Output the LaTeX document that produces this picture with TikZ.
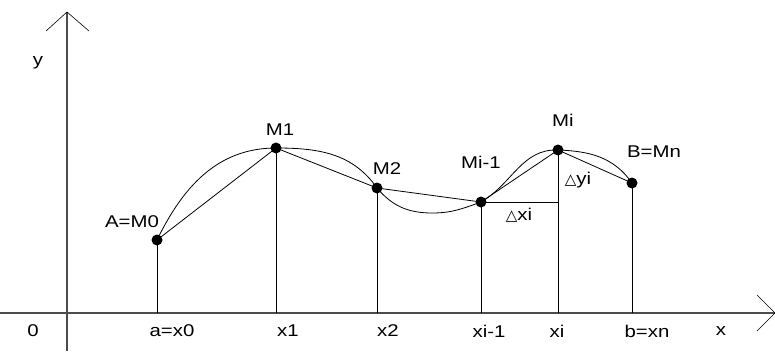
\documentclass[tikz,border=0pt]{standalone}
\usepackage{fontspec}
\setmainfont{Liberation Sans}[FakeStretch=1.2]
\newfontfamily\symb{DejaVu Sans}
\usepackage{tikz}
\usetikzlibrary{positioning}
\tikzset{
  axe/.style = {draw=black!70, line width=1.2pt},% axes
  fleche/.style = {draw=black, line width=0.6pt},% pointe ouverte
  trait/.style = {draw=black, line width=0.8pt},% cordes et verticales
  pt/.style = {circle, fill=black, inner sep=0pt, minimum size=11pt},% point Mi
  lbl/.style = {inner sep=1pt, font=\fontsize{17}{19}\selectfont}% etiquette
}
\newcommand{\tri}{{\symb\fontsize{15}{17}\selectfont △}}
\begin{document}
\begin{tikzpicture}[x=1pt, y=-1pt]
  \useasboundingbox (0,0) rectangle (775,351);
  % axes
  \coordinate (O) at (67,313);
  \coordinate (ytop) at (67,12);
  \coordinate (ybot) at (67,351);
  \coordinate (xl) at (0,313);
  \coordinate (xr) at (775,313);
  \draw[axe] (ybot) -- (ytop);
  \draw[axe] (xl) -- (xr);
  \draw[fleche] (46,31) -- (ytop) -- (89,31);
  \draw[fleche] (757,295) -- (xr) -- (757,331);
  % points de la courbe
  \node[pt] (M0) at (157,240) {};
  \node[pt] (M1) at (276,148) {};
  \node[pt] (M2) at (377,188) {};
  \node[pt] (Mi1) at (481,202) {};
  \node[pt] (Mi) at (558,150) {};
  \node[pt] (Mn) at (632,183) {};
  \coordinate (H) at (558,202);
  % pieds sur l'axe
  \foreach \p in {M0,M1,M2,Mi1,Mi,Mn}
    \draw[trait] (\p.center) -- (\p.center |- O);
  % courbe
  \draw[trait] (M0.center) to[out=64,in=180] (M1.center)
    to[out=0,in=125] (M2.center)
    to[out=-50,in=180] (432,213)
    to[out=0,in=200] (Mi1.center)
    to[out=30,in=178] (Mi.center)
    to[out=-2,in=125] (Mn.center);
  % cordes
  \draw[trait] (M0.center) -- (M1.center) -- (M2.center) -- (Mi1.center)
    -- (Mi.center) -- (Mn.center);
  \draw[trait] (Mi1.center) -- (H);
  % etiquettes
  \node[lbl] (ly) at (38,63) {y};
  \node[lbl] (lx) at (721,331) {x};
  \node[lbl] (l0) at (33,331) {0};
  \node[lbl] (lx0) at (172,331) {a=x0};
  \node[lbl] (lx1) at (288,331) {x1};
  \node[lbl] (lx2) at (388,331) {x2};
  \node[lbl] (lxi1) at (489,331) {xi-1};
  \node[lbl] (lxi) at (557,331) {xi};
  \node[lbl] (lxn) at (647,331) {b=xn};
  \node[lbl] (lM0) at (132,222) {A=M0};
  \node[lbl] (lM1) at (280,130) {M1};
  \node[lbl] (lM2) at (387,169) {M2};
  \node[lbl] (lMi1) at (481,162) {Mi-1};
  \node[lbl] (lMi) at (563,120) {Mi};
  \node[lbl] (lMn) at (654,152) {B=Mn};
  \node[lbl] (ldx) at (519,215) {\tri xi};
  \node[lbl] (ldy) at (578,180) {\tri yi};
\end{tikzpicture}
\end{document}
